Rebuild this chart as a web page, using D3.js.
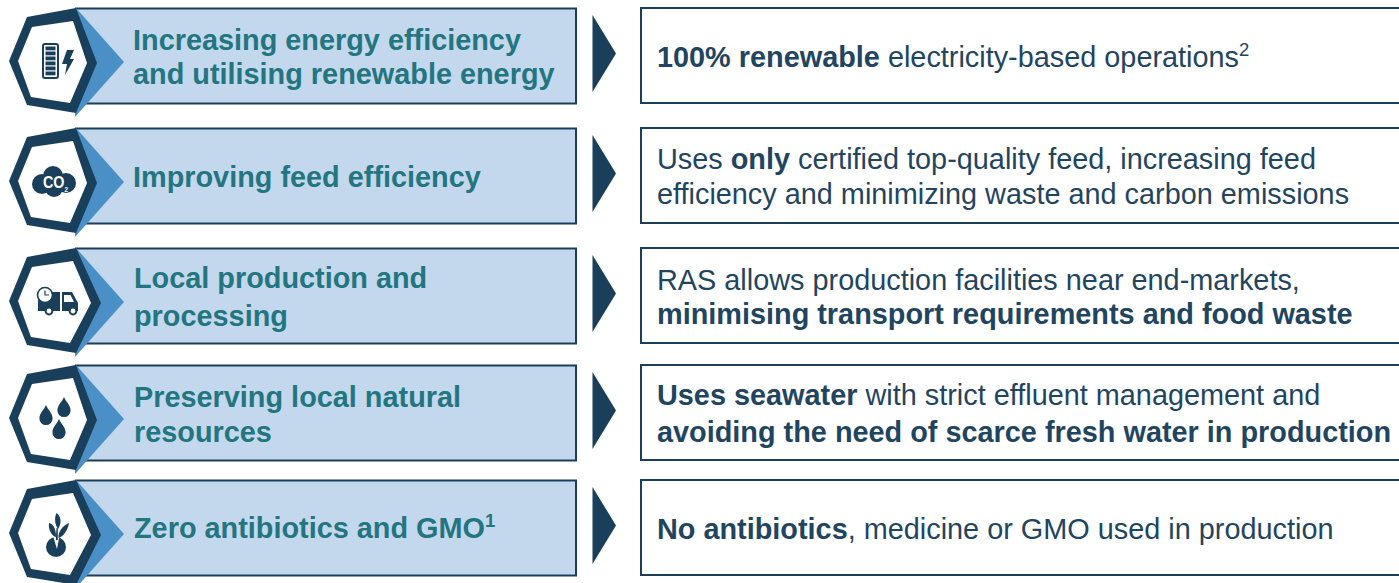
<!DOCTYPE html>
<html>
<head>
<meta charset="utf-8">
<title></title>
<script src="https://cdn.jsdelivr.net/npm/d3@7"></script>
<style>
html, body { margin: 0; padding: 0; background: #fff; overflow: hidden; }
svg { display: block; }
text { font-family: "Liberation Sans", Arial, sans-serif; }
</style>
</head>
<body>
<div id="chart"></div>
<script>
var keys = ['energy', 'feed', 'local', 'water', 'gmo'];

var titleLines = [
	[[['Increasing energy efficiency']], [['and utilising renewable energy']]],
	[[['Improving feed efficiency']]],
	[[['Local production and']], [['processing']]],
	[[['Preserving local natural']], [['resources']]],
	[[['Zero antibiotics and GMO'], ['1', 'sup']]]
];

// each run: text, style ('b' bold, 'sup' superscript)
var descLines = [
	[[['100% renewable', 'b'], [' electricity-based operations'], ['2', 'sup']]],
	[[['Uses '], ['only', 'b'], [' certified top-quality feed, increasing feed']],
	 [['efficiency and minimizing waste and carbon emissions']]],
	[[['RAS allows production facilities near end-markets,']],
	 [['minimising transport requirements and food waste', 'b']]],
	[[['Uses seawater', 'b'], [' with strict effluent management and']],
	 [['avoiding the need of scarce fresh water in production', 'b']]],
	[[['No antibiotics', 'b'], [', medicine or GMO used in production']]]
];

var width = 1399, height = 583;
var navy = '#1a3f5a', midBlue = '#4a90c6', pale = '#c3d8ed', teal = '#23757f', ink = '#1f4560';

var rowY = d3.scaleOrdinal().domain(keys).range([8, 128, 248, 365, 480]);
var titleY = { energy: [42, 76], feed: [59], local: [40, 78], water: [42, 77], gmo: [58] };
var descY = { energy: [59], feed: [41, 76], local: [42, 76], water: [40, 77], gmo: [59] };
var hexRight = { energy: 97, feed: 97, local: 101, water: 97, gmo: 101 };

var svg = d3.select('#chart').append('svg').attr('width', width).attr('height', height);

var rows = svg.selectAll('.row').data(keys).enter().append('g')
	.attr('class', 'row')
	.attr('transform', function(d){ return 'translate(0,' + rowY(d) + ')'; });

// left panel
rows.append('rect')
	.attr('x', 76).attr('y', 0.5).attr('width', 500).attr('height', 95)
	.attr('fill', pale).attr('stroke', navy).attr('stroke-width', 2);

// light blue point coming out of the hexagon
rows.append('path')
	.attr('d', 'M76,0L124,54L75,109Z')
	.attr('fill', midBlue);

// hexagon
rows.append('path')
	.attr('d', function(d){
		return 'M76,0L27,9L9,53L27,97L76,105L' + hexRight[d] + ',55Z';
	})
	.attr('fill', navy);
rows.append('path')
	.attr('d', function(d){
		return 'M73,13L32,19L18,53L31,89L70,95L' + (hexRight[d] - 10) + ',55Z';
	})
	.attr('fill', '#fff');

// arrow
rows.append('path').attr('d', 'M592.5,7L616,45.5L592.5,84Z').attr('fill', navy);

// right box
rows.append('rect')
	.attr('x', 641).attr('y', 0).attr('width', 770).attr('height', 95)
	.attr('fill', '#fff').attr('stroke', navy).attr('stroke-width', 2);

function addRuns(textSel, runs, color) {
	runs.forEach(function(run){
		var t = textSel.append('tspan').text(run[0]).attr('fill', color);
		if (run[1] == 'b') t.attr('font-weight', 'bold');
		if (run[1] == 'sup') t.attr('dy', -11).attr('font-size', '0.64em');
	});
}

// titles and descriptions
rows.each(function(d, i){
	var g = d3.select(this);
	titleLines[i].forEach(function(line, j){
		var t = g.append('text').attr('x', i < 2 ? 133 : 134).attr('y', titleY[d][j])
			.attr('font-size', 28.85).attr('font-weight', 'bold');
		addRuns(t, line, teal);
	});
	descLines[i].forEach(function(line, j){
		var t = g.append('text').attr('x', 657).attr('y', descY[d][j])
			.attr('font-size', 28.85);
		addRuns(t, line, ink);
	});
});

// icons, drawn relative to the row top
function icon(k) { return rows.filter(function(d){ return d == k; }).append('g').attr('fill', navy); }

var battery = icon('energy');
battery.append('rect').attr('x', 43).attr('y', 36).attr('width', 15).attr('height', 34).attr('rx', 2)
	.attr('fill', 'none').attr('stroke', navy).attr('stroke-width', 2);
d3.range(6).forEach(function(n){
	battery.append('rect').attr('x', 45.5).attr('y', 38.5 + n * 5).attr('width', 10).attr('height', 3.8);
});
battery.append('path').attr('d', 'M67,42L74,42L70,51L74,51L65,67L67,56L62,56Z');

var cloud = icon('feed');
[[42, 56, 10], [53, 48, 10], [66, 55, 10], [54, 60, 9]].forEach(function(c){
	cloud.append('circle').attr('cx', c[0]).attr('cy', c[1]).attr('r', c[2]);
});
var co2 = cloud.append('text').attr('x', 43).attr('y', 60).attr('fill', '#fff')
	.attr('font-size', 16).attr('font-weight', 'bold')
	.attr('textLength', 25).attr('lengthAdjust', 'spacingAndGlyphs');
co2.append('tspan').text('CO');
co2.append('tspan').attr('dy', 4).attr('font-size', 7).text('2');

var truck = icon('local');
truck.append('rect').attr('x', 38).attr('y', 44).attr('width', 22).attr('height', 19);
truck.append('path').attr('d', 'M62,44L72,44L78,55L78,63L62,63Z');
truck.append('path').attr('d', 'M64,47L70.500,47L74,54L64,54Z').attr('fill', '#fff');
truck.append('circle').attr('cx', 45).attr('cy', 47).attr('r', 7.5).attr('fill', '#fff').attr('stroke', navy).attr('stroke-width', 1.6);
truck.append('path').attr('d', 'M45,42.500L45,47L49,47').attr('fill', 'none').attr('stroke', navy).attr('stroke-width', 1.2);
[49, 73].forEach(function(cx){
	truck.append('circle').attr('cx', cx).attr('cy', 63).attr('r', 3.4).attr('fill', '#fff').attr('stroke', navy).attr('stroke-width', 2);
});

var drops = icon('water');
[[46, 40], [64, 32], [59, 54]].forEach(function(p){
	drops.append('path').attr('transform', 'translate(' + p[0] + ',' + p[1] + ')')
		.attr('d', 'M0,0C2,5 6.600,8 6.600,13.500A6.600,6.600 0 0 1 -6.600,13.500C-6.600,8 -2,5 0,0Z');
});

var plant = icon('gmo');
plant.append('circle').attr('cx', 56).attr('cy', 67).attr('r', 10);
plant.append('path').attr('d', 'M53,56L59.500,56L57,69Z').attr('fill', '#fff');
plant.append('path').attr('d', 'M56.500,33C61,36 62,43 58,49C55,45 54,38 56.500,33Z');
plant.append('path').attr('d', 'M49,43C53,44 56,48 56,57C52,56 48,50 49,43Z');
plant.append('path').attr('d', 'M69,43C68,50 63,57 58.500,58C58,52 62,46 69,43Z');
plant.append('path').attr('d', 'M56.500,48L57.800,48L57.800,60L55.800,60Z');
</script>
</body>
</html>
